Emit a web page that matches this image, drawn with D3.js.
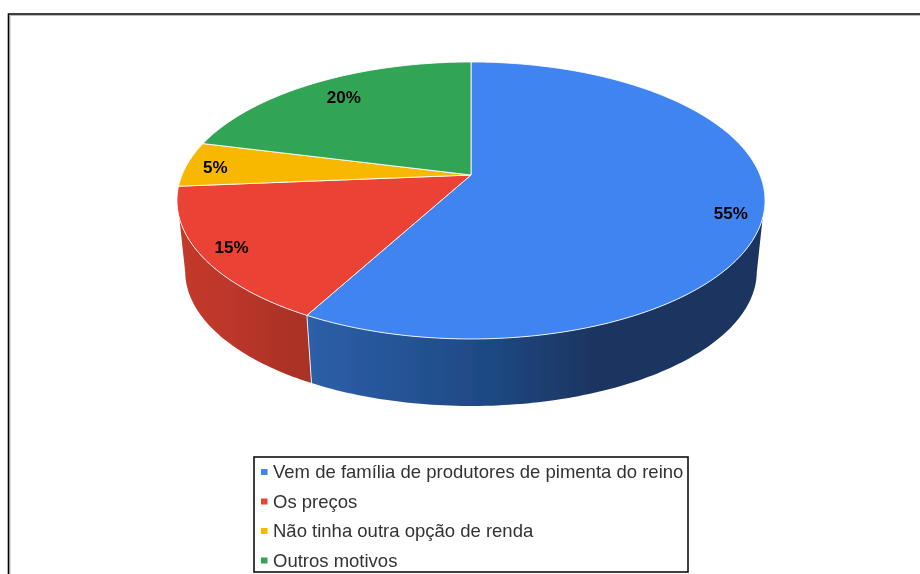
<!DOCTYPE html>
<html>
<head>
<meta charset="utf-8">
<script src="https://cdnjs.cloudflare.com/ajax/libs/d3/7.8.5/d3.min.js"></script>
<style>
    html, body { margin: 0; padding: 0; background: #fff; }
    svg { display: block; }
    text { font-family: "Liberation Sans", Arial, sans-serif; }
</style>
</head>
<body>
<div id="chart"></div>
<script>
// values as printed on the slices (they add up to 95, the pie normalises them)
const categories = [
    "Vem de família de produtores de pimenta do reino",
    "Os preços",
    "Não tinha outra opção de renda",
    "Outros motivos"
];
const values = [55, 15, 5, 20];
const colors = ["#4084f1", "#ea4335", "#f9b802", "#33a456"];
// side wall gradients, left to right
const sideOffsets = [0, 0.38, 0.63, 1];
const sideColors = [
    ["#2d5fa9", "#1f4a85", "#1a3561", "#1a3561"],
    ["#c33a2c", "#bc372a", "#b33428", "#a83127"],
    ["#f9b802", "#f9b802", "#f9b802", "#f9b802"],
    ["#33a456", "#33a456", "#33a456", "#33a456"]
];
const labelRadius = [0.89, 0.9, 0.9, 0.8];
const labelNudge = [8, 0, 2, -2];

const WIDTH = 920;
const HEIGHT = 574;

const svg = d3.select("#chart").append("svg")
    .attr("width", WIDTH)
    .attr("height", HEIGHT);

// soft look of the scanned original
const defs = svg.append("defs");
defs.append("filter").attr("id", "soft")
    .attr("filterUnits", "userSpaceOnUse")
    .attr("x", 0).attr("y", 0).attr("width", WIDTH).attr("height", HEIGHT)
    .append("feGaussianBlur").attr("stdDeviation", 0.7);

const g = svg.append("g").attr("filter", "url(#soft)");

// page frame, only the left and top edges are in the picture
g.append("path").attr("d", "M10,580V15.5H930").attr("fill", "none").attr("stroke", "#bbb").attr("stroke-width", 1);
g.append("path").attr("d", "M8.5,580V14H930").attr("fill", "none").attr("stroke", "#000").attr("stroke-width", 1.6);

// perspective projection of the pie plane
const PIE = { X: 471, Y: 175, RX: 289, RY: 133.8, K: 0.184, DEPTH: 71.6, BOTTOM_SCALE: 0.972 };

function project(angle, r = 1) {
    const u = Math.sin(angle) * r;
    const v = -Math.cos(angle) * r;
    const d = 1 - PIE.K * v;
    return [PIE.RX * u / d, PIE.RY * v / d];
}
const rimTop = a => {
    const p = project(a);
    return [PIE.X + p[0], PIE.Y + p[1]];
};
const rimBottom = a => {
    const p = project(a);
    return [PIE.X + p[0] * PIE.BOTTOM_SCALE, PIE.Y + PIE.DEPTH + p[1] * PIE.BOTTOM_SCALE];
};
const deg = d => d * Math.PI / 180;
// where the wall leaves the silhouette on each rim
const TOP_RANGE = [deg(107.6), deg(252.4)];
const BOTTOM_RANGE = [deg(101), deg(259)];

function sample(a0, a1) {
    const n = Math.max(2, Math.ceil((a1 - a0) / deg(1)));
    return d3.range(n + 1).map(i => a0 + (a1 - a0) * i / n);
}

const arcs = d3.pie().sort(null).startAngle(0).endAngle(2 * Math.PI)(values);
const line = d3.line();

// side walls
const front = arcs.filter(d => d.startAngle < TOP_RANGE[1] && d.endAngle > TOP_RANGE[0]);
front.forEach(d => {
    const topPts = sample(Math.max(d.startAngle, TOP_RANGE[0]), Math.min(d.endAngle, TOP_RANGE[1])).map(rimTop);
    const botPts = sample(Math.max(d.startAngle, BOTTOM_RANGE[0]), Math.min(d.endAngle, BOTTOM_RANGE[1])).map(rimBottom).reverse();
    const pts = topPts.concat(botPts);
    const grad = defs.append("linearGradient")
        .attr("id", `side-${d.index}`)
        .attr("gradientUnits", "userSpaceOnUse")
        .attr("x1", d3.min(pts, p => p[0])).attr("x2", d3.max(pts, p => p[0]))
        .attr("y1", 0).attr("y2", 0);
    sideOffsets.forEach((o, i) => {
        grad.append("stop").attr("offset", o).attr("stop-color", sideColors[d.index][i]);
    });
    g.append("path")
        .attr("d", line(pts) + "Z")
        .attr("fill", `url(#side-${d.index})`);
    // white seam between neighbouring walls
    if (d.startAngle > TOP_RANGE[0]) {
        g.append("path")
            .attr("d", line([rimTop(d.startAngle), rimBottom(d.startAngle)]))
            .attr("stroke", "#fff")
            .attr("stroke-opacity", 0.85)
            .attr("stroke-width", 1);
    }
});

// top face
g.selectAll(".slice").data(arcs).enter().append("path")
    .attr("class", "slice")
    .attr("d", d => line([[PIE.X, PIE.Y]].concat(sample(d.startAngle, d.endAngle).map(rimTop))) + "Z")
    .attr("fill", d => colors[d.index])
    .attr("stroke", "#fff")
    .attr("stroke-opacity", 0.85)
    .attr("stroke-width", 1);

// slice labels
g.selectAll(".slice-label").data(arcs).enter().append("text")
    .attr("class", "slice-label")
    .attr("x", d => PIE.X + project((d.startAngle + d.endAngle) / 2, labelRadius[d.index])[0])
    .attr("y", d => PIE.Y + project((d.startAngle + d.endAngle) / 2, labelRadius[d.index])[1] + labelNudge[d.index])
    .attr("dy", ".35em")
    .attr("text-anchor", "middle")
    .attr("font-size", "17px")
    .attr("font-weight", "bold")
    .attr("fill", "#000")
    .text(d => `${d.value}%`);

// legend
const LEGEND = { LEFT: 254, RIGHT: 688, TOP: 457, BOTTOM: 572 };
g.append("rect")
    .attr("x", LEGEND.LEFT)
    .attr("y", LEGEND.TOP)
    .attr("width", LEGEND.RIGHT - LEGEND.LEFT)
    .attr("height", LEGEND.BOTTOM - LEGEND.TOP)
    .attr("fill", "#fff")
    .attr("stroke", "#111")
    .attr("stroke-width", 1.6);

const rowY = d3.scalePoint().domain(categories).range([472, 560.5]);
const rows = g.selectAll(".legend-row").data(categories).enter().append("g")
    .attr("class", "legend-row")
    .attr("transform", d => `translate(${LEGEND.LEFT}, ${rowY(d)})`);
rows.append("rect")
    .attr("x", 7)
    .attr("y", -3)
    .attr("width", 6.5)
    .attr("height", 6)
    .attr("fill", (d, i) => colors[i]);
rows.append("text")
    .attr("x", 19)
    .attr("dy", ".35em")
    .attr("font-size", "18.5px")
    .attr("fill", "#333")
    .text(d => d);
</script>
</body>
</html>
